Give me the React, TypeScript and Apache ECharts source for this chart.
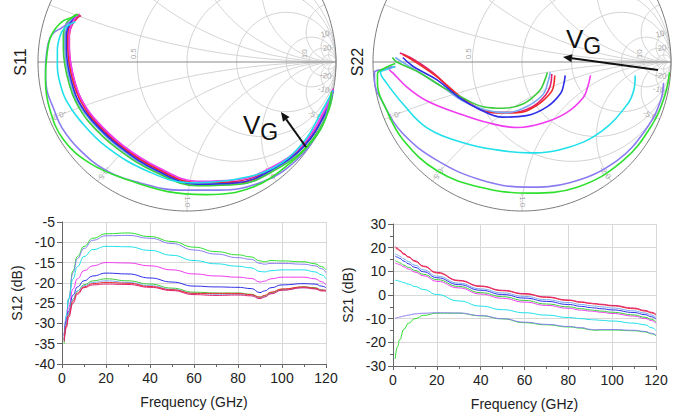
import React, { useEffect, useRef } from 'react';
import * as echarts from 'echarts';

// ---------- data ----------
const TRACE_NAMES = ['VG1', 'VG2', 'VG3', 'VG4', 'VG5', 'VG6', 'VG7', 'VG8', 'VG9'];
const TRACE_COLORS = ['#2fe02f', '#8a7cf0', '#1fe0ea', '#f03cf0', '#2f2fe8', '#3ccc3c', '#7aaaf2', '#f02a2a', '#e0206e'];

const FREQ_GHZ = [1, 2, 3, 5, 7, 10, 14, 20, 30, 40, 50, 60, 70, 80, 86, 90, 92, 95, 100, 110, 115, 118, 120];

const S12_DB = [
  [-35, -29, -24, -17, -13.5, -11, -9, -7.9, -7.7, -8.6, -9.8, -11.2, -12.3, -13.1, -13.6, -14.6, -14.8, -14.5, -14.6, -14.8, -15.3, -16, -16.8],
  [-34, -28.5, -24, -17.5, -14, -11.5, -9.5, -8.4, -8.3, -9.0, -10.3, -11.9, -12.9, -13.8, -14.2, -15.2, -15.4, -15.2, -15.2, -15.4, -15.8, -16.5, -17.5],
  [-33, -28, -24, -19, -16, -13.5, -11.8, -11.0, -11.1, -12.0, -13.2, -14.5, -15.3, -15.9, -16.3, -17.2, -17.3, -17.0, -16.8, -16.8, -17.3, -18, -19],
  [-33, -29, -26, -21.5, -19, -17, -15.8, -15.0, -15.1, -15.8, -16.8, -17.8, -18.3, -18.6, -18.9, -19.8, -19.6, -19.0, -18.6, -18.6, -19.0, -19.7, -20.5],
  [-33, -29.5, -27, -23, -21, -19.5, -18.3, -17.6, -17.8, -18.8, -19.8, -20.8, -21.0, -21.1, -21.4, -22.4, -22.0, -21.2, -20.5, -20.2, -20.3, -20.8, -21.2],
  [-34, -30, -27.5, -24, -22, -20.5, -19.5, -19.0, -19.5, -20.3, -21.3, -22.3, -22.5, -22.5, -22.8, -23.6, -23.2, -22.4, -21.6, -21.0, -21.2, -21.7, -22],
  [-34, -30, -27.5, -24, -22, -20.7, -19.9, -19.5, -19.9, -20.7, -21.6, -22.6, -22.8, -22.8, -23.0, -23.8, -23.4, -22.6, -21.8, -21.2, -21.4, -21.8, -22],
  [-34, -30.5, -28, -24.5, -22.5, -21, -20.2, -19.9, -20.1, -20.9, -21.7, -22.6, -22.6, -22.6, -22.9, -23.5, -23.1, -22.3, -21.5, -21.0, -21.3, -21.8, -21.8],
  [-34.5, -31, -28.5, -25, -22.8, -21.2, -20.5, -20.3, -20.4, -21.1, -21.9, -22.9, -23.1, -23.0, -23.2, -23.9, -23.5, -22.7, -21.8, -21.2, -21.5, -22, -22],
];

const S21_DB = [
  [-27, -22, -19, -14.5, -12, -10, -8.6, -7.7, -7.7, -8.8, -10.1, -11.7, -12.6, -13.5, -14.0, -14.7, -14.9, -14.8, -14.8, -15.1, -15.6, -16.4, -17.2],
  [-9.8, -9.6, -9.3, -8.9, -8.5, -8.0, -7.7, -7.5, -7.6, -8.7, -10.0, -11.5, -12.4, -13.3, -13.8, -14.5, -14.7, -14.6, -14.6, -14.9, -15.4, -16.2, -17.0],
  [6.3, 6.1, 5.8, 5.2, 4.6, 3.6, 2.3, 0.2, -2.5, -4.7, -6.2, -7.5, -8.5, -9.5, -10.0, -10.4, -10.5, -10.7, -11.0, -11.9, -12.6, -13.8, -15.0],
  [13.5, 13.2, 12.8, 11.9, 11.0, 9.7, 8.1, 5.8, 3.0, 0.4, -1.4, -3.0, -4.4, -5.6, -6.4, -6.8, -7.0, -7.3, -7.8, -8.9, -9.9, -10.8, -12.0],
  [16.5, 16.0, 15.5, 14.3, 13.2, 11.7, 9.8, 7.3, 4.4, 2.0, 0.2, -1.3, -2.7, -4.0, -4.8, -5.3, -5.5, -5.8, -6.3, -7.4, -8.3, -9.2, -10.2],
  [14.5, 14.1, 13.6, 12.6, 11.7, 10.4, 8.7, 6.5, 3.6, 1.0, -0.7, -2.3, -3.8, -5.0, -5.8, -6.3, -6.5, -6.8, -7.3, -8.4, -9.4, -10.3, -11.3],
  [17.5, 17.0, 16.4, 15.2, 14.1, 12.6, 10.6, 8.0, 5.0, 2.6, 0.9, -0.6, -2.0, -3.2, -4.0, -4.5, -4.7, -5.0, -5.5, -6.7, -7.6, -8.5, -9.5],
  [20.0, 19.4, 18.7, 17.2, 16.0, 14.2, 12.0, 9.3, 6.0, 3.6, 1.8, 0.4, -1.0, -2.3, -3.1, -3.6, -3.8, -4.1, -4.6, -5.8, -6.8, -7.6, -8.5],
  [20.5, 19.8, 19, 17.5, 16.2, 14.5, 12.2, 9.6, 6.2, 3.8, 2.0, 0.6, -0.8, -2.1, -2.9, -3.4, -3.6, -3.9, -4.4, -5.5, -6.5, -7.3, -8.2],
];

// reflection coefficient [Re, Im], low frequency first
const S11_GAMMA = [
  [[0.97, -0.2], [0.93, -0.38], [0.85, -0.52], [0.69, -0.68], [0.44, -0.84], [0.13, -0.89], [-0.13, -0.87], [-0.4, -0.79], [-0.65, -0.68], [-0.83, -0.52], [-0.92, -0.32], [-0.95, -0.12], [-0.94, 0.05], [-0.91, 0.18], [-0.84, 0.27], [-0.77, 0.3], [-0.73, 0.32]],
  [[0.98, -0.2], [0.96, -0.26], [0.89, -0.46], [0.71, -0.68], [0.49, -0.81], [0.22, -0.86], [-0.05, -0.86], [-0.32, -0.81], [-0.54, -0.73], [-0.72, -0.59], [-0.84, -0.44], [-0.9, -0.3], [-0.94, -0.19], [-0.95, -0.05], [-0.94, 0.08], [-0.92, 0.16], [-0.89, 0.2], [-0.84, 0.23], [-0.79, 0.27]],
  [[0.98, -0.19], [0.91, -0.32], [0.78, -0.54], [0.58, -0.71], [0.31, -0.79], [0.02, -0.81], [-0.27, -0.73], [-0.54, -0.57], [-0.72, -0.39], [-0.81, -0.26], [-0.85, -0.15], [-0.87, -0.03], [-0.87, 0.08], [-0.85, 0.18], [-0.82, 0.23], [-0.75, 0.27]],
  [[0.98, -0.18], [0.92, -0.33], [0.78, -0.55], [0.58, -0.7], [0.33, -0.79], [0.07, -0.8], [-0.19, -0.71], [-0.43, -0.56], [-0.62, -0.38], [-0.71, -0.25], [-0.75, -0.14], [-0.78, -0.01], [-0.79, 0.1], [-0.79, 0.19], [-0.77, 0.26], [-0.74, 0.31], [-0.72, 0.32]],
  [[0.98, -0.19], [0.93, -0.34], [0.79, -0.56], [0.59, -0.71], [0.34, -0.81], [0.07, -0.82], [-0.2, -0.73], [-0.45, -0.57], [-0.64, -0.39], [-0.73, -0.26], [-0.77, -0.15], [-0.8, -0.02], [-0.81, 0.09], [-0.81, 0.18], [-0.79, 0.25], [-0.75, 0.3], [-0.73, 0.32]],
  [[0.98, -0.2], [0.94, -0.35], [0.8, -0.57], [0.6, -0.72], [0.35, -0.82], [0.07, -0.83], [-0.21, -0.74], [-0.47, -0.58], [-0.66, -0.4], [-0.75, -0.26], [-0.79, -0.15], [-0.82, -0.02], [-0.83, 0.09], [-0.83, 0.18], [-0.81, 0.26], [-0.77, 0.3], [-0.74, 0.32]],
  [[0.98, -0.19], [0.93, -0.34], [0.79, -0.56], [0.59, -0.72], [0.34, -0.82], [0.07, -0.82], [-0.2, -0.74], [-0.45, -0.58], [-0.64, -0.4], [-0.74, -0.26], [-0.78, -0.15], [-0.81, -0.02], [-0.82, 0.09], [-0.82, 0.18], [-0.8, 0.25], [-0.76, 0.3], [-0.73, 0.31]],
  [[0.98, -0.19], [0.93, -0.34], [0.79, -0.56], [0.59, -0.71], [0.34, -0.81], [0.07, -0.81], [-0.2, -0.72], [-0.44, -0.57], [-0.63, -0.39], [-0.72, -0.25], [-0.76, -0.15], [-0.79, -0.02], [-0.8, 0.09], [-0.8, 0.18], [-0.78, 0.26], [-0.74, 0.3], [-0.72, 0.32]],
  [[0.98, -0.18], [0.93, -0.33], [0.79, -0.55], [0.59, -0.7], [0.34, -0.8], [0.07, -0.81], [-0.19, -0.72], [-0.43, -0.57], [-0.62, -0.39], [-0.71, -0.25], [-0.75, -0.15], [-0.78, -0.02], [-0.79, 0.09], [-0.79, 0.18], [-0.77, 0.25], [-0.73, 0.3], [-0.71, 0.31]],
];

const S22_GAMMA = [
  [[0.99, -0.07], [0.96, -0.22], [0.88, -0.41], [0.68, -0.66], [0.37, -0.84], [0.05, -0.88], [-0.28, -0.84], [-0.57, -0.73], [-0.8, -0.52], [-0.91, -0.32], [-0.97, -0.15], [-0.97, -0.08], [-0.92, -0.04], [-0.85, -0.01]],
  [[0.95, -0.14], [0.93, -0.26], [0.84, -0.44], [0.64, -0.66], [0.32, -0.81], [0.03, -0.84], [-0.28, -0.79], [-0.57, -0.66], [-0.8, -0.48], [-0.93, -0.28], [-0.99, -0.12], [-0.99, -0.07], [-0.94, -0.05], [-0.87, -0.03]],
  [[0.76, -0.09], [0.75, -0.19], [0.71, -0.28], [0.54, -0.46], [0.32, -0.57], [0.05, -0.61], [-0.17, -0.59], [-0.4, -0.54], [-0.64, -0.44], [-0.8, -0.28], [-0.91, -0.14], [-0.95, -0.07], [-0.91, -0.05], [-0.85, -0.03]],
  [[0.46, -0.09], [0.44, -0.17], [0.41, -0.24], [0.3, -0.34], [0.14, -0.41], [-0.03, -0.44], [-0.22, -0.41], [-0.44, -0.34], [-0.64, -0.26], [-0.77, -0.17], [-0.87, -0.07], [-0.89, -0.05], [-0.85, -0.03]],
  [[0.29, -0.09], [0.28, -0.15], [0.26, -0.21], [0.17, -0.3], [0.03, -0.36], [-0.13, -0.37], [-0.28, -0.32], [-0.42, -0.24], [-0.57, -0.12], [-0.73, -0.03], [-0.8, 0.03]],
  [[0.17, -0.07], [0.15, -0.13], [0.12, -0.19], [0.01, -0.28], [-0.13, -0.31], [-0.26, -0.3], [-0.4, -0.24], [-0.53, -0.17], [-0.69, -0.07], [-0.84, 0.0], [-0.87, 0.03]],
  [[0.19, -0.07], [0.17, -0.15], [0.14, -0.22], [0.03, -0.3], [-0.11, -0.34], [-0.25, -0.32], [-0.4, -0.26], [-0.53, -0.17], [-0.69, -0.07], [-0.82, 0.01], [-0.85, 0.03]],
  [[0.22, -0.09], [0.21, -0.17], [0.19, -0.21], [0.1, -0.29], [-0.03, -0.34], [-0.17, -0.34], [-0.33, -0.29], [-0.44, -0.21], [-0.57, -0.1], [-0.73, 0.01], [-0.8, 0.05]],
  [[0.2, -0.08], [0.19, -0.16], [0.16, -0.22], [0.07, -0.3], [-0.07, -0.34], [-0.2, -0.34], [-0.35, -0.28], [-0.47, -0.19], [-0.6, -0.07], [-0.75, 0.03], [-0.82, 0.06]],
];

const SMITH_R_CIRCLES = [0.5, 1, 2, 5, 10, 20];
const SMITH_X_ARCS = [0.2, 0.5, 1, 2, 5, 10, 20, -0.2, -0.5, -1, -2, -5, -10, -20];
const SMITH_X_LABELS = ['0.2', '0.5', '1.0', '2.0', '5.0', '10', '20', '-0.2', '-0.5', '-1.0', '-2.0', '-5.0', '-10', '-20'];
const SMITH_R_LABELS = [{ r: 0.5, text: '0.5' }, { r: 10, text: '10' }];

const X_TICKS = { min: 0, max: 120, step: 20 };
const S12_RANGE = { min: -40, max: -5, step: 5 };
const S21_RANGE = { min: -30, max: 30, step: 10 };

// ---------- layout ----------
const FONT = "'Liberation Sans', Arial, Helvetica, sans-serif";
const SMITHS = [
  { cx: 187, cy: 62, R: 149, name: 'S11', nameX: 20, data: S11_GAMMA },
  { cx: 522, cy: 62, R: 149, name: 'S22', nameX: 357, data: S22_GAMMA },
];
const PAD = 0.02;

function arcPts(cx: number, cy: number, rad: number, a0: number, a1: number, n: number) {
  const pts: number[][] = [];
  for (let i = 0; i <= n; i++) {
    const a = a0 + ((a1 - a0) * i) / n;
    pts.push([cx + rad * Math.cos(a), cy + rad * Math.sin(a)]);
  }
  return pts;
}

function buildOption() {
  const grid: any[] = [];
  const xAxis: any[] = [];
  const yAxis: any[] = [];
  const series: any[] = [];
  const graphic: any[] = [];

  SMITHS.forEach((s, k) => {
    const yMax = s.cy / s.R;
    grid.push({
      left: s.cx - s.R * (1 + PAD),
      top: 0,
      width: 2 * s.R * (1 + PAD),
      height: s.R * (yMax + 1 + PAD),
      outerBoundsMode: 'none',
    });
    xAxis.push({ gridIndex: k, type: 'value', min: -1 - PAD, max: 1 + PAD, show: false });
    yAxis.push({ gridIndex: k, type: 'value', min: -1 - PAD, max: yMax, show: false });

    const gl = (data: number[][], color: string, width: number) =>
      series.push({
        type: 'line', xAxisIndex: k, yAxisIndex: k, data, showSymbol: false, silent: true,
        lineStyle: { color, width }, z: 1,
      });
    SMITH_R_CIRCLES.forEach((r) => gl(arcPts(r / (1 + r), 0, 1 / (1 + r), 0, 2 * Math.PI, 160), '#d2d2d2', 1));
    SMITH_X_ARCS.forEach((xv) => {
      const cy = 1 / xv;
      const rad = Math.abs(cy);
      const px = (xv * xv - 1) / (xv * xv + 1);
      const py = (2 * xv) / (xv * xv + 1);
      const a0 = Math.atan2(-cy, 0);
      const a1 = Math.atan2(py - cy, px - 1);
      let d = a1 - a0;
      while (d > Math.PI) d -= 2 * Math.PI;
      while (d <= -Math.PI) d += 2 * Math.PI;
      gl(arcPts(1, cy, rad, a0, a0 + d, 120), '#d2d2d2', 1);
    });
    gl([[-1, 0], [1, 0]], '#8a8a8a', 1.2);
    gl(arcPts(0, 0, 1, 0, 2 * Math.PI, 360), '#7a7a7a', 1);

    // later (higher-index) traces first so the outer ones end up on top
    for (let i = s.data.length - 1; i >= 0; i--) {
      series.push({
        type: 'line', name: TRACE_NAMES[i], xAxisIndex: k, yAxisIndex: k, data: s.data[i],
        showSymbol: false, smooth: 0.4, lineStyle: { color: TRACE_COLORS[i], width: 1.6 }, z: 2,
      });
    }

    // labels on the rim (reactance) and on the real axis (resistance)
    SMITH_X_ARCS.forEach((xv, j) => {
      const px = (xv * xv - 1) / (xv * xv + 1);
      const py = (2 * xv) / (xv * xv + 1);
      const th = Math.atan2(py, px);
      const ly = s.cy - s.R * 0.975 * Math.sin(th);
      if (ly < 7) return; // outside the visible part of the chart
      graphic.push({
        type: 'text', x: s.cx + s.R * 0.975 * Math.cos(th), y: ly, rotation: th, z: 2,
        style: { text: SMITH_X_LABELS[j], fill: '#a8a8a8', fontSize: 8, fontFamily: FONT, align: 'right', verticalAlign: 'middle' },
      });
    });
    SMITH_R_LABELS.forEach((lb) => {
      const g = (lb.r - 1) / (lb.r + 1);
      graphic.push({
        type: 'text', x: s.cx + s.R * (g - 0.028), y: s.cy - s.R * 0.055, rotation: Math.PI / 2, z: 2,
        style: { text: lb.text, fill: '#a8a8a8', fontSize: 8, fontFamily: FONT, align: 'center', verticalAlign: 'middle' },
      });
    });
    graphic.push({
      type: 'text', x: s.nameX, y: s.cy, rotation: Math.PI / 2, z: 5,
      style: { text: s.name, fill: '#1a1a1a', fontSize: 16, fontFamily: FONT, align: 'center', verticalAlign: 'middle' },
    });
  });

  // ---- rectangular plots ----
  const rect = [
    { left: 62, top: 222, width: 264, height: 142, range: S12_RANGE, name: 'S12 (dB)', data: S12_DB, minor: false },
    { left: 393, top: 224, width: 263, height: 142, range: S21_RANGE, name: 'S21 (dB)', data: S21_DB, minor: true },
  ];
  rect.forEach((p, j) => {
    const k = j + 2;
    grid.push({ left: p.left, top: p.top, width: p.width, height: p.height, outerBoundsMode: 'none' });
    xAxis.push({
      gridIndex: k, type: 'value', min: X_TICKS.min, max: X_TICKS.max, interval: X_TICKS.step,
      name: 'Frequency (GHz)', nameLocation: 'middle', nameGap: 31,
      nameTextStyle: { fontSize: 14, color: '#222', fontFamily: FONT },
      axisLine: { onZero: false, lineStyle: { color: '#666', width: 1 } },
      axisTick: { show: true, length: 4, lineStyle: { color: '#666' } },
      minorTick: { show: true, splitNumber: 2, length: 3, lineStyle: { color: '#666' } },
      splitLine: { show: true, lineStyle: { color: '#d8d8d8', width: 1 } },
      axisLabel: { fontSize: 14, color: '#222', fontFamily: FONT, margin: 7 },
    });
    yAxis.push({
      gridIndex: k, type: 'value', min: p.range.min, max: p.range.max, interval: p.range.step,
      name: p.name, nameLocation: 'middle', nameGap: 38,
      nameTextStyle: { fontSize: 14, color: '#222', fontFamily: FONT },
      axisLine: { show: true, onZero: false, lineStyle: { color: '#666', width: 1 } },
      axisTick: { show: true, length: 5, lineStyle: { color: '#666' } },
      minorTick: { show: p.minor, splitNumber: 2, length: 3, lineStyle: { color: '#666' } },
      splitLine: { show: true, lineStyle: { color: '#d8d8d8', width: 1 } },
      axisLabel: { fontSize: 14, color: '#222', fontFamily: FONT, margin: 7 },
    });
    p.data.forEach((vals, i) =>
      series.push({
        type: 'line', name: TRACE_NAMES[i], xAxisIndex: k, yAxisIndex: k,
        data: FREQ_GHZ.map((f, n) => [f, vals[n]]),
        showSymbol: false, smooth: true, smoothMonotone: 'x',
        lineStyle: { color: TRACE_COLORS[i], width: 1 }, z: 3,
      })
    );
  });

  // ---- VG annotations ----
  const vg = (x: number, y: number) => ({
    type: 'text', x, y, z: 10,
    style: {
      text: '{v|V}{g|G}', align: 'left', verticalAlign: 'top', fill: '#111',
      rich: {
        v: { fontSize: 26, fontFamily: FONT, fill: '#111', verticalAlign: 'bottom', padding: [0, 0, 5, 0] },
        g: { fontSize: 23, fontFamily: FONT, fill: '#111', verticalAlign: 'bottom' },
      },
    },
  });
  const arrow = (x1: number, y1: number, x2: number, y2: number) => {
    const dx = x2 - x1, dy = y2 - y1, L = Math.hypot(dx, dy);
    const ux = dx / L, uy = dy / L, nx = -uy, ny = ux;
    const bx = x2 - 9 * ux, by = y2 - 9 * uy;
    return [
      { type: 'line', z: 10, shape: { x1, y1, x2: bx, y2: by }, style: { stroke: '#111', lineWidth: 2 } },
      { type: 'polygon', z: 10, shape: { points: [[x2, y2], [bx + 4 * nx, by + 4 * ny], [bx - 4 * nx, by - 4 * ny]] }, style: { fill: '#111' } },
    ];
  };
  graphic.push(vg(243, 112), ...arrow(306, 147, 281, 112));
  graphic.push(vg(566, 26), ...arrow(658, 70, 563, 57));

  return {
    animation: false,
    backgroundColor: '#ffffff',
    textStyle: { fontFamily: FONT },
    grid, xAxis, yAxis, series, graphic,
  };
}

export default function App() {
  const ref = useRef<HTMLDivElement>(null);
  useEffect(() => {
    const chart = echarts.init(ref.current!, null, { renderer: 'svg' });
    chart.setOption(buildOption() as any);
    return () => chart.dispose();
  }, []);
  return (
    <div
      ref={ref}
      style={{ position: 'absolute', left: 0, top: 0, width: 685, height: 417, background: '#fff' }}
    />
  );
}
